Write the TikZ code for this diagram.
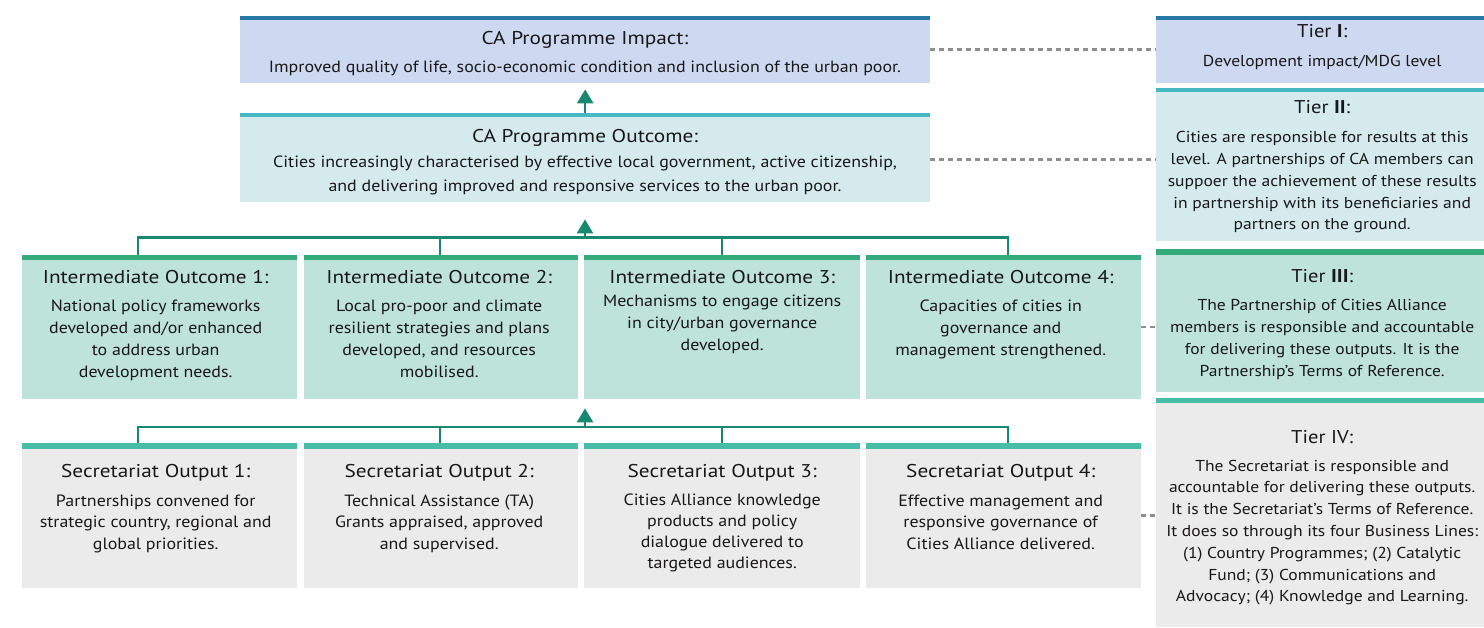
\documentclass[tikz,border=0pt]{standalone}
\usepackage{fontspec}
\setmainfont{PT Sans}
\newfontfamily\headfam[FakeStretch=1.15]{PT Sans}
\newfontfamily\bodyfam[FakeStretch=1.1]{PT Sans}
\newfontfamily\tierfam[FakeStretch=1.11]{PT Sans}
\usetikzlibrary{arrows.meta}

\definecolor{impactfill}{HTML}{CCD9F1}
\definecolor{impactbar}{HTML}{2679A6}
\definecolor{outcomefill}{HTML}{D4EAED}
\definecolor{outcomebar}{HTML}{46B8C3}
\definecolor{interfill}{HTML}{BDE3DB}
\definecolor{interbar}{HTML}{35AB7C}
\definecolor{secfill}{HTML}{EBEBEB}
\definecolor{secbar}{HTML}{45BDA7}
\definecolor{linkgreen}{HTML}{17896F}
\definecolor{dashgray}{HTML}{8E8E8E}
\definecolor{ink}{HTML}{1A1718}

% centred multi-line block whose reference point is the first baseline
\newcommand{\lines}[1]{\parbox[t]{700pt}{\centering #1}}

\tikzset{
  panel/.style={anchor=north west, inner sep=0pt, draw=none},
  ttl/.style={anchor=base, inner sep=0pt, text=ink, font=\headfam\fontsize{18.5}{22}\selectfont},
  bdy/.style={anchor=base, inner sep=0pt, text=ink, font=\bodyfam\fontsize{16.3}{#1}\selectfont},
  bdy/.default=22,
  tttl/.style={anchor=base, inner sep=0pt, text=ink, font=\tierfam\fontsize{18.5}{22}\selectfont},
  tbdy/.style={anchor=base, inner sep=0pt, text=ink, font=\tierfam\fontsize{15.8}{#1}\selectfont},
  tbdy/.default=22,
  conn/.style={draw=linkgreen, line width=2.5pt},
  uparrow/.style={draw=linkgreen, line width=2.5pt, -{Triangle[width=16pt,length=14pt]}},
  tierlink/.style={draw=dashgray, line width=2.5pt, dash pattern=on 5pt off 4pt},
}

\begin{document}
\begin{tikzpicture}[x=1pt,y=-1pt]
\useasboundingbox[fill=white] (0,0) rectangle (1484,628);

% ---------- impact ----------
\node[panel, fill=impactfill, minimum width=690pt, minimum height=67pt] (impact) at (240,16) {};
\fill[impactbar] (impact.north west) rectangle ([yshift=-4pt]impact.north east);
\node[ttl] (impactT) at (585,45) {CA Programme Impact:};
\node[bdy] (impactB) at (585,73) {\lines{Improved quality of life, socio-economic condition and inclusion of the urban poor.}};

% ---------- outcome ----------
\node[panel, fill=outcomefill, minimum width=690pt, minimum height=89pt] (outcome) at (240,113) {};
\fill[outcomebar] (outcome.north west) rectangle ([yshift=-4pt]outcome.north east);
\node[ttl] (outcomeT) at (585,143) {CA Programme Outcome:};
\node[bdy=23.5] (outcomeB) at (585,168) {\lines{Cities increasingly characterised by effective local government, active citizenship,\\and delivering improved and responsive services to the urban poor.}};

% ---------- intermediate outcomes ----------
\node[panel, fill=interfill, minimum width=275pt, minimum height=144pt] (io1) at (22,255) {};
\node[panel, fill=interfill, minimum width=274pt, minimum height=144pt] (io2) at (304,255) {};
\node[panel, fill=interfill, minimum width=276pt, minimum height=144pt] (io3) at (584,255) {};
\node[panel, fill=interfill, minimum width=275pt, minimum height=144pt] (io4) at (866,255) {};
\foreach \n in {io1,io2,io3,io4}
  \fill[interbar] (\n.north west) rectangle ([yshift=-5pt]\n.north east);

\node[ttl] (io1T) at ([xshift=-4pt]io1.north |- 0,284) {Intermediate Outcome 1:};
\node[bdy] (io1B) at ([xshift=-4pt]io1.north |- 0,312) {\lines{National policy frameworks\\developed and/or enhanced\\to address urban\\development needs.}};
\node[ttl] (io2T) at ([xshift=-2pt]io2.north |- 0,284) {Intermediate Outcome 2:};
\node[bdy] (io2B) at ([xshift=-2pt]io2.north |- 0,312) {\lines{Local pro-poor and climate\\resilient strategies and plans\\developed, and resources\\mobilised.}};
\node[ttl] (io3T) at (io3.north |- 0,284) {Intermediate Outcome 3:};
\node[bdy] (io3B) at (io3.north |- 0,307) {\lines{Mechanisms to engage citizens\\in city/urban governance\\developed.}};
\node[ttl] (io4T) at ([xshift=-3pt]io4.north |- 0,284) {Intermediate Outcome 4:};
\node[bdy] (io4B) at ([xshift=-3pt]io4.north |- 0,312) {\lines{Capacities of cities in\\governance and\\management strengthened.}};

% ---------- secretariat outputs ----------
\node[panel, fill=secfill, minimum width=275pt, minimum height=145pt] (so1) at (22,443) {};
\node[panel, fill=secfill, minimum width=274pt, minimum height=145pt] (so2) at (304,443) {};
\node[panel, fill=secfill, minimum width=276pt, minimum height=145pt] (so3) at (584,443) {};
\node[panel, fill=secfill, minimum width=275pt, minimum height=145pt] (so4) at (866,443) {};
\foreach \n in {so1,so2,so3,so4}
  \fill[secbar] (\n.north west) rectangle ([yshift=-6pt]\n.north east);

\node[ttl] (so1T) at ([xshift=-4pt]so1.north |- 0,477) {Secretariat Output 1:};
\node[bdy=21.5] (so1B) at ([xshift=-4pt]so1.north |- 0,506) {\lines{Partnerships convened for\\strategic country, regional and\\global priorities.}};
\node[ttl] (so2T) at ([xshift=-2pt]so2.north |- 0,477) {Secretariat Output 2:};
\node[bdy=21.5] (so2B) at ([xshift=-2pt]so2.north |- 0,506) {\lines{Technical Assistance (TA)\\Grants appraised, approved\\and supervised.}};
\node[ttl] (so3T) at (so3.north |- 0,477) {Secretariat Output 3:};
\node[bdy=21] (so3B) at (so3.north |- 0,505) {\lines{Cities Alliance knowledge\\products and policy\\dialogue delivered to\\targeted audiences.}};
\node[ttl] (so4T) at ([xshift=-3pt]so4.north |- 0,477) {Secretariat Output 4:};
\node[bdy=21.5] (so4B) at ([xshift=-3pt]so4.north |- 0,506) {\lines{Effective management and\\responsive governance of\\Cities Alliance delivered.}};

% ---------- tiers ----------
\node[panel, fill=impactfill, minimum width=328pt, minimum height=67pt] (tier1) at (1156,16) {};
\fill[impactbar] (tier1.north west) rectangle ([yshift=-4pt]tier1.north east);
\node[panel, fill=outcomefill, minimum width=328pt, minimum height=153pt] (tier2) at (1156,88) {};
\fill[outcomebar] (tier2.north west) rectangle ([yshift=-4pt]tier2.north east);
\node[panel, fill=interfill, minimum width=328pt, minimum height=143pt] (tier3) at (1156,249) {};
\fill[interbar] (tier3.north west) rectangle ([yshift=-6pt]tier3.north east);
\node[panel, fill=secfill, minimum width=328pt, minimum height=229pt] (tier4) at (1156,398) {};
\fill[secbar] (tier4.north west) rectangle ([yshift=-5pt]tier4.north east);

\node[tttl] (tier1T) at ([xshift=2pt]tier1.north |- 0,38) {Tier \textbf{I}:};
\node[tbdy] (tier1B) at ([xshift=2pt]tier1.north |- 0,67) {\lines{Development impact/MDG level}};
\node[tttl] (tier2T) at ([xshift=2pt]tier2.north |- 0,114) {Tier \textbf{II}:};
\node[tbdy=21.75] (tier2B) at ([xshift=2pt]tier2.north |- 0,143) {\lines{Cities are responsible for results at this\\level. A partnerships of CA members can\\suppoer the achievement of these results\\in partnership with its beneficiaries and\\partners on the ground.}};
\node[tttl] (tier3T) at ([xshift=2pt]tier3.north |- 0,283) {Tier \textbf{III}:};
\node[tbdy=22] (tier3B) at ([xshift=2pt]tier3.north |- 0,311) {\lines{The Partnership of Cities Alliance\\members is responsible and accountable\\for delivering these outputs. It is the\\Partnership’s Terms of Reference.}};
\node[tttl] (tier4T) at ([xshift=2pt]tier4.north |- 0,443) {Tier IV:};
\node[tbdy=21.8] (tier4B) at ([xshift=2pt]tier4.north |- 0,471) {\lines{The Secretariat is responsible and\\accountable for delivering these outputs.\\It is the Secretariat’s Terms of Reference.\\It does so through its four Business Lines:\\(1) Country Programmes; (2) Catalytic\\Fund; (3) Communications and\\Advocacy; (4) Knowledge and Learning.}};

% ---------- connectors between levels ----------
\draw[uparrow, shorten >=6pt] (outcome.north) -- (impact.south);

\coordinate (hubI) at (585,237.5);
\coordinate (dI1) at (138,237.5);
\coordinate (dI2) at (440,237.5);
\coordinate (dI3) at (722,237.5);
\coordinate (dI4) at (1008,237.5);
\draw[conn] (dI1 |- io1.north) -- (dI1) -- (dI4) -- (dI4 |- io4.north);
\draw[conn] (dI2) -- (dI2 |- io2.north);
\draw[conn] (dI3) -- (dI3 |- io3.north);
\draw[uparrow, shorten >=17pt] (hubI) -- (outcome.south -| hubI);

\coordinate (hubS) at (585,427);
\coordinate (dS1) at (138,427);
\coordinate (dS2) at (440,427);
\coordinate (dS3) at (722,427);
\coordinate (dS4) at (1008,427);
\draw[conn] (dS1 |- so1.north) -- (dS1) -- (dS4) -- (dS4 |- so4.north);
\draw[conn] (dS2) -- (dS2 |- so2.north);
\draw[conn] (dS3) -- (dS3 |- so3.north);
\draw[uparrow, shorten >=9pt] (hubS) -- (io3.south -| hubS);

% ---------- links to the tier descriptions ----------
\draw[tierlink] (impact.east) -- (impact.east -| tier1.west);
\draw[tierlink] ([yshift=-2pt]outcome.east) -- ([yshift=-2pt]outcome.east -| tier2.west);
\draw[tierlink] (io4.east) -- (io4.east -| tier3.west);
\draw[tierlink] (so4.east) -- (so4.east -| tier4.west);
\end{tikzpicture}
\end{document}
